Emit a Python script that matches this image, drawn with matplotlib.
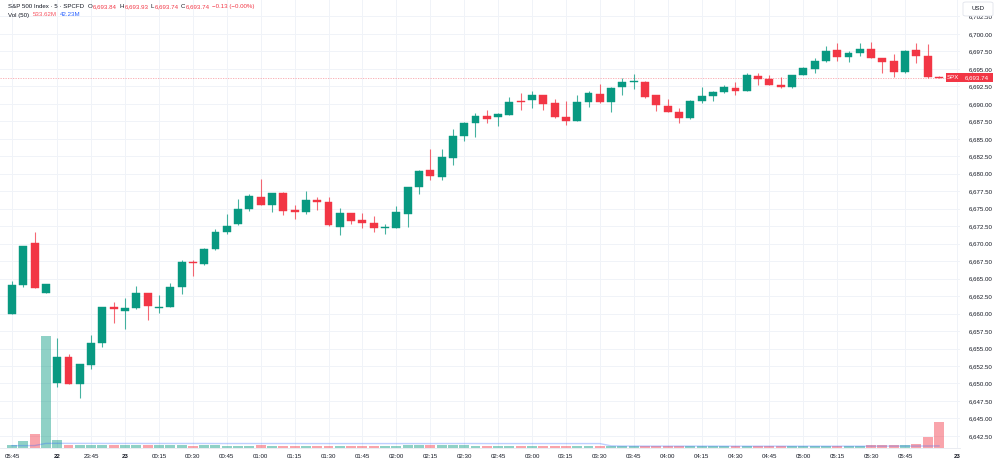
import matplotlib
matplotlib.use("Agg")
import matplotlib.pyplot as plt
import numpy as np
from matplotlib.patches import Rectangle, FancyBboxPatch
from matplotlib.transforms import blended_transform_factory

# ---------------- data ----------------
opens = [6660.0, 6664.1, 6670.1, 6662.9, 6650.0, 6653.8, 6649.9, 6652.7, 6655.8, 6660.9,
         6660.4, 6660.8, 6662.9, 6660.8, 6660.9, 6663.85, 6667.4, 6667.05, 6669.2, 6671.6,
         6672.8, 6675.0, 6676.7, 6675.5, 6677.3, 6674.8, 6674.5, 6676.25, 6675.9, 6672.4,
         6674.35, 6673.4, 6672.9, 6672.2, 6672.2, 6674.3, 6678.1, 6680.6, 6679.6, 6682.3,
         6685.4, 6687.3, 6688.3, 6688.1, 6688.4, 6690.4, 6690.55, 6691.2, 6690.1, 6688.15,
         6687.6, 6690.3, 6691.4, 6690.2, 6692.35, 6693.2, 6693.2, 6691.3, 6689.7, 6688.9,
         6687.95, 6690.4, 6691.1, 6691.7, 6692.3, 6691.9, 6694.0, 6693.55, 6692.7, 6692.45,
         6694.2, 6695.0, 6696.15, 6697.7, 6696.75, 6697.25, 6697.85, 6696.6, 6696.1, 6694.6,
         6697.7, 6696.9, 6693.84]
highs = [6664.7, 6669.7, 6671.7, 6664.25, 6656.5, 6654.2, 6652.8, 6657.0, 6660.9, 6661.7,
         6662.2, 6663.9, 6662.9, 6662.6, 6664.4, 6667.7, 6667.7, 6669.4, 6672.1, 6674.25,
         6676.4, 6677.1, 6679.3, 6677.3, 6677.45, 6675.5, 6677.6, 6676.7, 6676.7, 6675.1,
         6674.4, 6674.35, 6674.0, 6672.8, 6675.4, 6678.1, 6680.6, 6683.5, 6683.55, 6686.4,
         6687.4, 6688.75, 6689.1, 6688.7, 6691.0, 6691.6, 6691.85, 6691.3, 6690.65, 6690.45,
         6691.3, 6691.85, 6692.85, 6692.4, 6693.65, 6694.3, 6693.3, 6691.3, 6690.65, 6689.45,
         6690.5, 6692.45, 6691.9, 6692.7, 6693.2, 6694.4, 6694.4, 6694.1, 6693.9, 6694.2,
         6695.3, 6696.5, 6698.3, 6698.7, 6697.55, 6698.7, 6698.8, 6696.6, 6697.1, 6697.7,
         6698.7, 6698.55, 6693.93]
lows = [6660.0, 6663.8, 6663.6, 6662.9, 6649.5, 6649.9, 6647.9, 6652.1, 6655.2, 6658.7,
        6657.8, 6660.6, 6659.1, 6660.1, 6660.9, 6662.8, 6665.4, 6667.0, 6669.1, 6671.4,
        6672.7, 6674.7, 6675.5, 6674.6, 6674.1, 6673.5, 6674.25, 6674.8, 6672.5, 6671.3,
        6672.8, 6672.3, 6671.6, 6671.4, 6672.2, 6672.4, 6677.1, 6679.1, 6679.1, 6681.2,
        6684.65, 6685.2, 6687.3, 6686.9, 6688.4, 6689.1, 6689.45, 6689.1, 6688.0, 6687.0,
        6687.5, 6689.6, 6690.1, 6688.9, 6691.3, 6692.1, 6690.9, 6689.0, 6688.8, 6687.2,
        6687.9, 6690.1, 6690.45, 6691.6, 6691.3, 6691.85, 6692.7, 6692.7, 6692.2, 6692.2,
        6694.1, 6694.45, 6695.95, 6696.15, 6695.95, 6696.9, 6696.5, 6694.4, 6693.9, 6694.45,
        6695.8, 6693.7, 6693.74]
closes = [6664.1, 6669.7, 6663.6, 6664.2, 6653.8, 6649.9, 6652.75, 6655.8, 6660.9, 6660.7,
          6660.8, 6662.9, 6661.1, 6661.0, 6663.85, 6667.4, 6667.2, 6669.24, 6671.7, 6672.6,
          6675.0, 6676.8, 6675.5, 6677.25, 6674.7, 6674.6, 6676.25, 6675.9, 6672.7, 6674.35,
          6673.25, 6672.9, 6672.2, 6672.4, 6674.5, 6678.07, 6680.4, 6679.7, 6682.4, 6685.4,
          6687.3, 6688.3, 6687.9, 6688.55, 6690.3, 6690.3, 6691.2, 6689.95, 6688.1, 6687.6,
          6690.3, 6691.5, 6690.2, 6692.3, 6693.2, 6693.25, 6690.95, 6689.85, 6688.8, 6687.95,
          6690.45, 6691.1, 6691.75, 6692.4, 6691.85, 6694.1, 6693.55, 6692.7, 6692.4, 6694.1,
          6695.1, 6696.2, 6697.55, 6696.75, 6697.25, 6697.85, 6696.5, 6696.05, 6694.5, 6697.6,
          6696.9, 6693.87, 6693.74]
# volume in millions
volumes = [68, 150, 293, 2300, 158, 60, 58, 56, 55, 54,
           55, 54, 52, 54, 52, 54, 50, 52, 52, 50,
           50, 48, 52, 48, 50, 47, 48, 46, 50, 44,
           46, 44, 42, 42, 48, 56, 64, 62, 66, 58,
           52, 50, 48, 46, 48, 46, 48, 50, 46, 44,
           48, 44, 46, 42, 42, 40, 44, 44, 42, 42,
           46, 42, 40, 40, 40, 42, 42, 40, 40, 42,
           44, 42, 44, 44, 42, 46, 58, 60, 62, 58,
           88, 232, 533.62]
# volume moving average (50) in millions
ma_vol = [48, 48, 50, 94, 96, 95, 95, 95, 94, 94,
          94, 94, 93, 93, 93, 93, 93, 93, 92, 92,
          92, 92, 92, 92, 92, 92, 91, 91, 91, 91,
          91, 91, 91, 91, 91, 91, 91, 91, 92, 92,
          92, 92, 91, 91, 91, 91, 91, 91, 91, 91,
          91, 91, 91, 44, 40, 40, 39, 39, 39, 39,
          39, 39, 39, 38, 38, 38, 38, 38, 38, 38,
          38, 38, 38, 38, 38, 38, 38, 38, 39, 39,
          40, 41, 42.23]
# time axis labels: (bar index, label)
time_tick_bars = [0, 4, 7, 10, 13, 16, 19, 22, 25, 28, 31, 34, 37, 40, 43, 46, 49, 52,
                  55, 58, 61, 64, 67, 70, 73, 76, 79, 83.6]
time_tick_labels = ["05:45", "22", "23:45", "23", "00:15", "00:30", "00:45", "01:00",
                    "01:15", "01:30", "01:45", "02:00", "02:15", "02:30", "02:45", "03:00",
                    "03:15", "03:30", "03:45", "04:00", "04:15", "04:30", "04:45", "05:00",
                    "05:15", "05:30", "05:45", "23"]
bold_labels = {"22", "23"}
price_ticks = [6642.5 + 2.5 * k for k in range(25)]

symbol_title = "S&P 500 Index · 5 · SPCFD"
ticker = "SPX"
currency = "USD"

# ---------------- style ----------------
UP = "#089981"
DN = "#F23645"
TXT = "#131722"
GRID = "#f0f3f8"
FONT = ["Liberation Sans", "DejaVu Sans"]
FS = 4.4
plt.rcParams["font.family"] = FONT

W, H = 1000, 467
fig = plt.figure(figsize=(W / 100, H / 100), dpi=100)
fig.patch.set_facecolor("white")

PLOT_R, PLOT_B = 960, 448
ax = fig.add_axes([0, (H - PLOT_B) / H, PLOT_R / W, PLOT_B / H])
axv = ax.twinx()   # volume pane drawn over the price grid

n = len(opens)
xs = np.arange(n)
o = np.array(opens); c = np.array(closes); hi = np.array(highs); lo = np.array(lows)
up = c >= o
cols = np.where(up, UP, DN)

# volume
vcols = [UP if u else DN for u in up]
axv.bar(xs, volumes, width=0.88, color=vcols, alpha=0.45, linewidth=0)
axv.plot(xs, ma_vol, color="#2962FF", lw=1.0, alpha=0.3)
axv.set_ylim(0, 9190)
axv.set_yticks([])
for s in axv.spines.values():
    s.set_visible(False)

# candles
ax.vlines(xs, lo, hi, colors=cols, lw=0.8, alpha=0.75, zorder=2)
body_bottom = np.minimum(o, c)
body_h = np.maximum(np.abs(c - o), 0.14)
ax.bar(xs, body_h, bottom=body_bottom, width=0.7, color=cols, edgecolor=cols,
       linewidth=0.3, zorder=3)

ax.set_xlim(-1.06, 83.86)
ax.set_ylim(6640.77, 6704.86)

# grid + ticks
ax.set_yticks(price_ticks)
ax.set_yticklabels([f"{p:,.2f}" for p in price_ticks])
ax.yaxis.tick_right()
ax.tick_params(axis="y", length=0, pad=6, labelsize=FS, labelcolor=TXT)
ax.set_xticks(time_tick_bars)
ax.set_xticklabels(time_tick_labels)
ax.tick_params(axis="x", length=0, pad=4.5, labelsize=FS, labelcolor=TXT)
for lab in ax.get_xticklabels():
    if lab.get_text() in bold_labels:
        lab.set_fontweight("bold")
ax.grid(True, color=GRID, lw=0.7, zorder=0)
ax.set_axisbelow(True)
for k, s in ax.spines.items():
    s.set_visible(False)
ax.spines["bottom"].set_visible(True)
ax.spines["bottom"].set_color("#e6e9ef")
ax.spines["bottom"].set_linewidth(0.6)

# last price line and labels
last = closes[-1]
ax.axhline(last, color=DN, lw=0.6, ls=(0, (1.5, 1.5)), alpha=0.45, zorder=1)
trans = blended_transform_factory(fig.transFigure, ax.transData)
half = 4.5 / 6.99
axv.add_patch(Rectangle((946 / W, last - half), 14 / W, 2 * half, transform=trans,
                        facecolor=DN, edgecolor="none", clip_on=False, zorder=10))
axv.text(953 / W, last, ticker, transform=trans, ha="center", va="center", color="white",
         fontsize=FS, clip_on=False, zorder=11)
axv.add_patch(Rectangle((960 / W, last - half), 33 / W, 2 * half, transform=trans,
                        facecolor=DN, edgecolor="none", clip_on=False, zorder=10))
axv.text(976.5 / W, last, f"{last:,.2f}", transform=trans, ha="center", va="center",
         color="white", fontsize=FS, clip_on=False, zorder=11)

# currency box
fig.add_artist(FancyBboxPatch((963 / W, 1 - 16 / H), 30 / W, 14 / H,
                              boxstyle="round,pad=0,rounding_size=0.003",
                              transform=fig.transFigure, facecolor="white",
                              edgecolor="#e0e3eb", lw=0.6, zorder=20))
fig.text(978 / W, 1 - 9 / H, currency, ha="center", va="center", fontsize=FS,
         color=TXT, zorder=21)

# header legend
renderer = fig.canvas.get_renderer()


def seg_line(x_px, y_px, segs, size=FS):
    for s, col, gap in segs:
        t = fig.text(x_px / W, 1 - y_px / H, s, color=col, fontsize=size,
                     ha="left", va="center", zorder=30)
        x_px += t.get_window_extent(renderer).width + gap


chg = closes[-1] - closes[-2]
pct = chg / closes[-2] * 100
chg_s = f"{chg:+.2f} ({pct:+.2f}%)".replace("-", "\u2212")
seg_line(8, 6.5, [
    (symbol_title, TXT, 4),
    ("O", TXT, 0.3), (f"{opens[-1]:,.2f}", DN, 2.5),
    ("H", TXT, 0.3), (f"{highs[-1]:,.2f}", DN, 2.5),
    ("L", TXT, 0.3), (f"{lows[-1]:,.2f}", DN, 2.5),
    ("C", TXT, 0.3), (f"{closes[-1]:,.2f}", DN, 2.5),
    (chg_s, DN, 0),
])
seg_line(8, 15, [
    ("Vol (50)", TXT, 4),
    (f"{volumes[-1]:.2f}M", "#F7525F", 3),
    (f"{ma_vol[-1]:.2f}M", "#2962FF", 0),
])

fig.savefig("out.png", dpi=100, facecolor="white")
